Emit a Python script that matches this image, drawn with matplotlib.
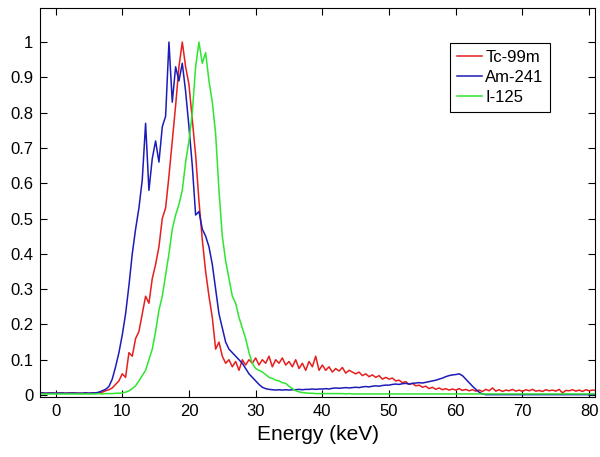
import numpy as np
import matplotlib
matplotlib.use("Agg")
import matplotlib.pyplot as plt

plt.rcParams['font.family'] = ['Liberation Sans', 'DejaVu Sans']

# energy bins (keV), 0.5 keV wide
energy = np.arange(-2.5, 81.01, 0.5)

tc99m = [
    0.005, 0.006, 0.005, 0.006, 0.005,
    0.005, 0.006, 0.005, 0.005, 0.006, 0.005, 0.006, 0.005, 0.005, 0.006,
    0.005, 0.006, 0.006, 0.007, 0.008, 0.012, 0.015, 0.020, 0.030, 0.040,
    0.060, 0.050, 0.120, 0.110, 0.160, 0.180, 0.230, 0.280, 0.260, 0.330,
    0.370, 0.420, 0.500, 0.530, 0.620, 0.720, 0.820, 0.930, 1.000, 0.930,
    0.880, 0.780, 0.680, 0.550, 0.440, 0.350, 0.280, 0.220, 0.130, 0.150,
    0.110, 0.090, 0.100, 0.080, 0.095, 0.070, 0.100, 0.085, 0.100, 0.090,
    0.105, 0.085, 0.100, 0.090, 0.110, 0.080, 0.100, 0.090, 0.105, 0.085,
    0.095, 0.080, 0.100, 0.075, 0.090, 0.070, 0.095, 0.080, 0.110, 0.070,
    0.085, 0.070, 0.080, 0.065, 0.075, 0.068, 0.078, 0.062, 0.070, 0.065,
    0.060, 0.065, 0.055, 0.060, 0.052, 0.057, 0.050, 0.055, 0.045, 0.050,
    0.045, 0.048, 0.040, 0.042, 0.035, 0.038, 0.030, 0.033, 0.026, 0.028,
    0.022, 0.025, 0.018, 0.022, 0.016, 0.020, 0.015, 0.018, 0.014, 0.017,
    0.014, 0.018, 0.013, 0.016, 0.012, 0.015, 0.011, 0.014, 0.010, 0.016,
    0.012, 0.020, 0.011, 0.015, 0.010, 0.014, 0.012, 0.016, 0.011, 0.014,
    0.010, 0.015, 0.012, 0.016, 0.011, 0.013, 0.010, 0.015, 0.012, 0.014,
    0.011, 0.016, 0.006, 0.013, 0.012, 0.015, 0.011, 0.014, 0.010, 0.015,
    0.012, 0.014, 0.013,
]

am241 = [
    0.005, 0.006, 0.005, 0.005, 0.006,
    0.005, 0.005, 0.006, 0.005, 0.005, 0.006, 0.005, 0.005, 0.005, 0.006,
    0.005, 0.006, 0.006, 0.008, 0.012, 0.016, 0.024, 0.045, 0.080, 0.120,
    0.170, 0.230, 0.310, 0.400, 0.470, 0.530, 0.610, 0.770, 0.580, 0.670,
    0.720, 0.660, 0.760, 0.790, 1.000, 0.830, 0.930, 0.890, 0.940, 0.860,
    0.760, 0.650, 0.510, 0.520, 0.470, 0.450, 0.420, 0.370, 0.300, 0.230,
    0.190, 0.150, 0.130, 0.120, 0.110, 0.100, 0.090, 0.075, 0.060, 0.050,
    0.040, 0.030, 0.022, 0.018, 0.016, 0.015, 0.014, 0.015, 0.014, 0.015,
    0.014, 0.015, 0.015, 0.016, 0.015, 0.016, 0.016, 0.017, 0.016, 0.017,
    0.017, 0.018, 0.017, 0.019, 0.020, 0.019, 0.020, 0.021, 0.020, 0.021,
    0.022, 0.021, 0.023, 0.024, 0.023, 0.025, 0.026, 0.025, 0.027, 0.028,
    0.028, 0.030, 0.031, 0.030, 0.032, 0.033, 0.031, 0.033, 0.034, 0.035,
    0.034, 0.036, 0.038, 0.040, 0.042, 0.045, 0.048, 0.052, 0.055, 0.057,
    0.058, 0.060, 0.055, 0.045, 0.035, 0.025, 0.016, 0.008, 0.003, 0.001,
    0.001, 0.001, 0.001, 0.001, 0.001, 0.001, 0.001, 0.001, 0.001, 0.001,
    0.001, 0.001, 0.001, 0.001, 0.001, 0.001, 0.001, 0.001, 0.001, 0.001,
    0.001, 0.001, 0.001, 0.001, 0.001, 0.001, 0.001, 0.001, 0.001, 0.001,
    0.001, 0.001, 0.001,
]

i125 = [
    0.003, 0.003, 0.003, 0.003, 0.003,
    0.003, 0.003, 0.003, 0.003, 0.003, 0.003, 0.003, 0.003, 0.003, 0.003,
    0.003, 0.003, 0.003, 0.004, 0.003, 0.004, 0.004, 0.004, 0.005, 0.005,
    0.006, 0.008, 0.012, 0.018, 0.026, 0.040, 0.055, 0.070, 0.100, 0.130,
    0.180, 0.240, 0.280, 0.340, 0.400, 0.470, 0.510, 0.540, 0.580, 0.660,
    0.720, 0.800, 0.930, 1.000, 0.940, 0.970, 0.890, 0.830, 0.740, 0.580,
    0.450, 0.380, 0.330, 0.280, 0.260, 0.220, 0.190, 0.160, 0.120, 0.090,
    0.075, 0.070, 0.065, 0.058, 0.050, 0.047, 0.042, 0.040, 0.035, 0.033,
    0.025, 0.018, 0.012, 0.009, 0.007, 0.006, 0.005, 0.005, 0.004, 0.004,
    0.004, 0.004, 0.004, 0.004, 0.004, 0.004, 0.004, 0.003, 0.004, 0.003,
    0.003, 0.003, 0.003, 0.003, 0.003, 0.003, 0.003, 0.003, 0.003, 0.003,
    0.003, 0.003, 0.003, 0.003, 0.003, 0.003, 0.003, 0.003, 0.003, 0.003,
    0.003, 0.003, 0.003, 0.003, 0.003, 0.003, 0.003, 0.003, 0.003, 0.003,
    0.003, 0.003, 0.003, 0.003, 0.003, 0.003, 0.003, 0.003, 0.003, 0.003,
    0.003, 0.003, 0.003, 0.003, 0.003, 0.003, 0.003, 0.003, 0.003, 0.003,
    0.003, 0.003, 0.003, 0.003, 0.003, 0.003, 0.003, 0.003, 0.003, 0.003,
    0.003, 0.003, 0.003, 0.003, 0.003, 0.003, 0.003, 0.003, 0.003, 0.003,
    0.003, 0.003, 0.003,
]

series = [("Tc-99m", tc99m, '#e61e1e'), ("Am-241", am241, '#1c1cb8'), ("I-125", i125, '#2ee62e')]

fig = plt.figure(figsize=(6, 4.57), dpi=100)
ax = fig.add_axes([0.067, 0.131, 0.925, 0.851])

for name, vals, col in series:
    ax.plot(energy, vals, color=col, lw=1.1, label=name)

ax.set_xlim(-2.3, 80.9)
ax.set_ylim(-0.006, 1.096)
ax.set_xticks(np.arange(0, 81, 10))
ax.set_yticks(np.arange(0, 1.01, 0.1))
ax.set_yticklabels(['0', '0.1', '0.2', '0.3', '0.4', '0.5', '0.6', '0.7', '0.8', '0.9', '1'])
ax.tick_params(direction='in', top=True, right=True, length=5, width=0.8, labelsize=12, pad=5)
for sp in ax.spines.values():
    sp.set_linewidth(0.8)
ax.set_xlabel("Energy (keV)", fontsize=15, labelpad=4)

leg = ax.legend(loc='upper right', bbox_to_anchor=(0.919, 0.91), borderaxespad=0,
                fontsize=12, handlelength=1.5, handletextpad=0.2, fancybox=False,
                edgecolor='black', framealpha=1, borderpad=0.4, labelspacing=0.3)
leg.get_frame().set_linewidth(0.8)

fig.savefig("out.png", dpi=100)
